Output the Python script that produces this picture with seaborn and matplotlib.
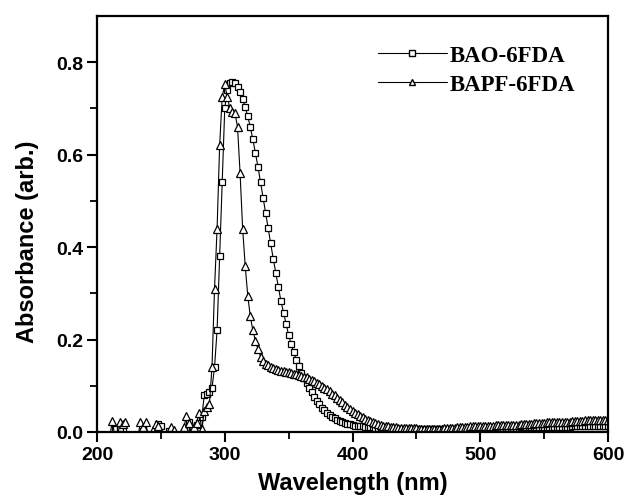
import numpy as np
import pandas as pd
import seaborn as sns
import matplotlib
matplotlib.use("Agg")
import matplotlib.pyplot as plt
from matplotlib.lines import Line2D

wavelength = list(range(210, 601, 2))

bao_6fda = [
    # 210-284
    -0.01, -0.01, 0.006, -0.005, 0.008, -0.01, -0.01, -0.01, -0.01, -0.01,
    -0.01, -0.01, -0.01, 0.003, -0.005, -0.01, -0.01, -0.01, -0.01, 0.017,
    0.012, -0.01, -0.01, 0.003, -0.01, -0.01, -0.01, -0.01, -0.01, -0.01,
    -0.005, 0.021, 0.005, -0.01, 0.015, 0.02, 0.032, 0.08,
    # 286-340
    0.082, 0.086, 0.095, 0.14, 0.22, 0.38, 0.54, 0.70, 0.74, 0.755,
    0.758, 0.755, 0.747, 0.736, 0.721, 0.703, 0.683, 0.66, 0.633, 0.604,
    0.574, 0.54, 0.507, 0.474, 0.441, 0.409, 0.374, 0.344,
    # 342-440
    0.313, 0.283, 0.258, 0.234, 0.21, 0.19, 0.172, 0.156, 0.143, 0.127,
    0.116, 0.105, 0.095, 0.086, 0.076, 0.067, 0.06, 0.053, 0.047, 0.042,
    0.037, 0.033, 0.03, 0.027, 0.024, 0.022, 0.02, 0.018, 0.017, 0.015,
    0.014, 0.013, 0.012, 0.012, 0.011, 0.011, 0.010, 0.010, 0.009, 0.009,
    0.008, 0.008, 0.008, 0.007, 0.007, 0.007, 0.006, 0.006, 0.006, 0.006,
    # 442-520
    0.006, 0.006, 0.006, 0.006, 0.006, 0.006, 0.006, 0.006, 0.006, 0.006,
    0.006, 0.006, 0.006, 0.006, 0.006, 0.007, 0.007, 0.007, 0.007, 0.007,
    0.007, 0.007, 0.007, 0.007, 0.007, 0.008, 0.008, 0.008, 0.008, 0.008,
    0.008, 0.008, 0.008, 0.008, 0.008, 0.009, 0.009, 0.009, 0.009, 0.009,
    # 522-600
    0.009, 0.009, 0.009, 0.009, 0.009, 0.010, 0.010, 0.010, 0.010, 0.010,
    0.010, 0.010, 0.010, 0.010, 0.010, 0.011, 0.011, 0.011, 0.011, 0.011,
    0.011, 0.011, 0.011, 0.011, 0.011, 0.012, 0.012, 0.012, 0.012, 0.012,
    0.012, 0.012, 0.012, 0.013, 0.013, 0.013, 0.013, 0.013, 0.013, 0.013,
]

bapf_6fda = [
    # 210-284
    -0.01, 0.024, -0.01, -0.01, 0.021, 0.018, 0.021, -0.01, -0.01, -0.01,
    -0.01, -0.01, 0.021, 0.01, 0.022, -0.01, -0.01, 0.005, 0.017, 0.012,
    -0.01, -0.01, -0.01, -0.01, 0.01, 0.004, -0.01, -0.01, -0.01, 0.01,
    0.035, 0.02, -0.005, 0.01, 0.02, 0.042, 0.006, 0.045,
    # 286-340
    0.055, 0.06, 0.14, 0.31, 0.44, 0.62, 0.725, 0.752, 0.725, 0.70,
    0.693, 0.69, 0.66, 0.56, 0.44, 0.36, 0.295, 0.25, 0.22, 0.197,
    0.18, 0.163, 0.154, 0.148, 0.144, 0.141, 0.138, 0.136,
    # 342-440
    0.134, 0.133, 0.131, 0.130, 0.129, 0.128, 0.126, 0.125, 0.123, 0.122,
    0.120, 0.118, 0.115, 0.113, 0.110, 0.107, 0.104, 0.100, 0.096, 0.092,
    0.088, 0.083, 0.079, 0.074, 0.069, 0.064, 0.059, 0.055, 0.050, 0.046,
    0.042, 0.038, 0.035, 0.032, 0.029, 0.026, 0.023, 0.021, 0.019, 0.017,
    0.016, 0.014, 0.013, 0.012, 0.011, 0.010, 0.010, 0.009, 0.009, 0.008,
    # 442-520
    0.008, 0.008, 0.008, 0.008, 0.008, 0.007, 0.007, 0.007, 0.007, 0.007,
    0.007, 0.007, 0.007, 0.007, 0.007, 0.008, 0.008, 0.008, 0.008, 0.008,
    0.010, 0.010, 0.010, 0.010, 0.010, 0.012, 0.012, 0.012, 0.012, 0.012,
    0.013, 0.013, 0.013, 0.013, 0.013, 0.015, 0.015, 0.015, 0.015, 0.015,
    # 522-600
    0.016, 0.016, 0.016, 0.016, 0.016, 0.018, 0.018, 0.018, 0.018, 0.018,
    0.019, 0.019, 0.019, 0.019, 0.019, 0.021, 0.021, 0.021, 0.021, 0.021,
    0.022, 0.022, 0.022, 0.022, 0.022, 0.024, 0.024, 0.024, 0.024, 0.024,
    0.025, 0.025, 0.025, 0.025, 0.025, 0.027, 0.027, 0.027, 0.027, 0.027,
]

series_names = ["BAO-6FDA", "BAPF-6FDA"]
x_ticks = [200, 300, 400, 500, 600]
y_ticks = [0.0, 0.2, 0.4, 0.6, 0.8]

sns.set_style("ticks")
plt.rcParams["font.family"] = ["Liberation Sans", "DejaVu Sans"]
plt.rcParams["text.color"] = "black"
plt.rcParams["axes.labelcolor"] = "black"
plt.rcParams["xtick.color"] = "black"
plt.rcParams["ytick.color"] = "black"

fig = plt.figure(figsize=(6.27, 5.02), dpi=100)
ax = fig.add_axes([97 / 627, 1 - 433 / 502, (608 - 97) / 627, (433 - 17) / 502])

df_bao = pd.DataFrame({"wl": wavelength, "A": bao_6fda})
df_bapf = pd.DataFrame({"wl": wavelength, "A": bapf_6fda})

common = dict(color="black", linewidth=0.8, markerfacecolor="white",
              markeredgecolor="black", markeredgewidth=0.9)
sns.lineplot(data=df_bao, x="wl", y="A", ax=ax, marker="s", markersize=5.0,
             estimator=None, sort=False, **common)
sns.lineplot(data=df_bapf, x="wl", y="A", ax=ax, marker="^", markersize=6.2,
             estimator=None, sort=False, **common)

ax.set_xlim(200, 600)
ax.set_ylim(0.0, 0.9)
ax.set_xticks(x_ticks)
ax.set_yticks(y_ticks)
ax.set_xticks([250, 350, 450, 550], minor=True)
ax.set_yticks([0.1, 0.3, 0.5, 0.7], minor=True)
ax.set_xticklabels([str(t) for t in x_ticks])
ax.set_yticklabels([f"{t:.1f}" for t in y_ticks])

for sp in ax.spines.values():
    sp.set_visible(True)
    sp.set_linewidth(1.6)
    sp.set_color("black")

ax.tick_params(axis="both", which="major", direction="out", length=7, width=1.5,
               labelsize=14, colors="black", pad=3)
ax.tick_params(axis="both", which="minor", direction="out", length=5, width=1.3,
               colors="black")
for lab in ax.get_xticklabels() + ax.get_yticklabels():
    lab.set_fontweight("bold")

ax.set_xlabel("Wavelength (nm)", fontsize=17, fontweight="bold", labelpad=6)
ax.set_ylabel("Absorbance (arb.)", fontsize=17, fontweight="bold")
ax.yaxis.set_label_coords(-0.113, 0.46)

handles = [
    Line2D([], [], color="black", linewidth=0.8, marker="s", markersize=4.5,
           markerfacecolor="white", markeredgecolor="black"),
    Line2D([], [], color="black", linewidth=0.8, marker="^", markersize=5,
           markerfacecolor="white", markeredgecolor="black"),
]
leg = ax.legend(handles, series_names, loc="upper left",
                bbox_to_anchor=(378 / 627, 1 - 46 / 502),
                bbox_transform=fig.transFigure, frameon=False,
                handlelength=3.0, handletextpad=0.15, borderpad=0,
                borderaxespad=0, labelspacing=0.35,
                prop={"family": "Liberation Serif", "weight": "bold", "size": 16.5})

fig.savefig("out.png", dpi=100)
